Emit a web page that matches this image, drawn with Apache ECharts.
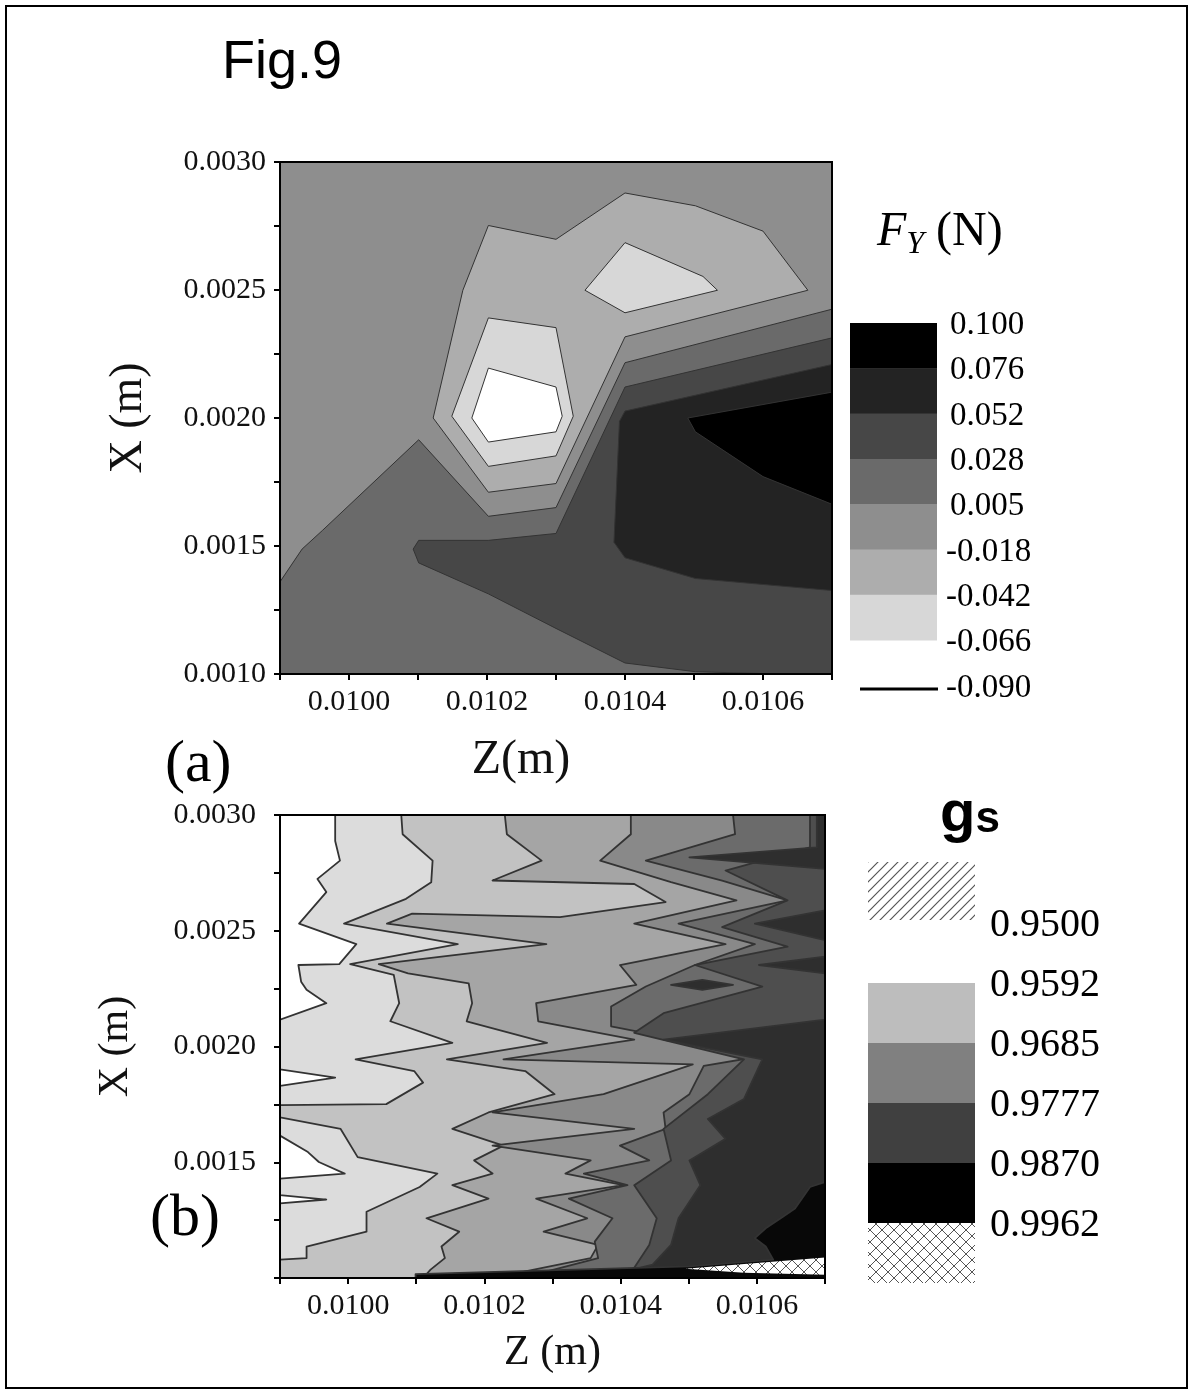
<!DOCTYPE html>
<html>
<head>
<meta charset="utf-8">
<title>Fig.9</title>
<script src="https://cdn.jsdelivr.net/npm/echarts@6.0.0/dist/echarts.min.js"></script>
<style>
html, body { margin: 0; padding: 0; background: #fff; }
#chart { width: 1193px; height: 1393px; }
</style>
</head>
<body>
<div id="chart"></div>
<script>
// ---------- shared axis data ----------
var zRange = [0.0099, 0.0107];
var xRange = [0.0010, 0.0030];
var zTickLabels = ['0.0100', '0.0102', '0.0104', '0.0106'];
var xTickLabelsA = ['0.0010', '0.0015', '0.0020', '0.0025', '0.0030'];
var xTickLabelsB = ['0.0015', '0.0020', '0.0025', '0.0030'];

// ---------- panel (a): F_Y (N) ----------
var fyLabels = ['0.100', '0.076', '0.052', '0.028', '0.005', '-0.018', '-0.042', '-0.066', '-0.090'];
var fyColors = ['#000000', '#232323', '#474747', '#6a6a6a', '#8e8e8e', '#adadad', '#d7d7d7', '#ffffff'];

// filled regions, [Z, X] vertices in m; level = index into fyColors
var fyRegions = [
  { level: 4, pts: [[0.0099, 0.0010], [0.0107, 0.0010], [0.0107, 0.0030], [0.0099, 0.0030]] },
  { level: 3, pts: [[0.0099, 0.001360], [0.009932, 0.001488], [0.009962, 0.001562], [0.010101, 0.001915], [0.010202, 0.001616], [0.010300, 0.001650], [0.010400, 0.002216], [0.010700, 0.002425], [0.0107, 0.0010], [0.0099, 0.0010]] },
  { level: 2, pts: [[0.010101, 0.001522], [0.010202, 0.001522], [0.010300, 0.001549], [0.010400, 0.002121], [0.010700, 0.002313], [0.0107, 0.0010], [0.010620, 0.0010], [0.010502, 0.001009], [0.010400, 0.001043], [0.010300, 0.001178], [0.010202, 0.001313], [0.010101, 0.001434], [0.010093, 0.001488]] },
  { level: 1, pts: [[0.010400, 0.002027], [0.010700, 0.002209], [0.010700, 0.001326], [0.010502, 0.001373], [0.010400, 0.001454], [0.010384, 0.001515], [0.010392, 0.001987]] },
  { level: 0, pts: [[0.010491, 0.002000], [0.010700, 0.002101], [0.010700, 0.001663], [0.010600, 0.001771], [0.010502, 0.001946]] },
  { level: 5, pts: [[0.010202, 0.002752], [0.010300, 0.002698], [0.010400, 0.002879], [0.010502, 0.002829], [0.010600, 0.002730], [0.010665, 0.002499], [0.010400, 0.002317], [0.010300, 0.001744], [0.010202, 0.001710], [0.010122, 0.002000], [0.010165, 0.002499]] },
  { level: 6, pts: [[0.010202, 0.002391], [0.010300, 0.002353], [0.010325, 0.002007], [0.010300, 0.001852], [0.010202, 0.001811], [0.010149, 0.002007]] },
  { level: 6, pts: [[0.010400, 0.002685], [0.010513, 0.002553], [0.010534, 0.002499], [0.010400, 0.002411], [0.010342, 0.002499]] },
  { level: 7, pts: [[0.010202, 0.002195], [0.010300, 0.002121], [0.010309, 0.002007], [0.010300, 0.001946], [0.010202, 0.001906], [0.010178, 0.002000]] }
];

// ---------- panel (b): g_s ----------
var gsLabels = ['0.9500', '0.9592', '0.9685', '0.9777', '0.9870', '0.9962'];
var gsLegendColors = ['#bdbdbd', '#808080', '#404040', '#000000'];
var gsColors = ['#ffffff', '#dcdcdc', '#c2c2c2', '#a5a5a5', '#898989', '#6b6b6b', '#4e4e4e', '#2e2e2e', '#080808'];

// contour boundaries from top edge to bottom edge; the band right of each one takes its level
var gsB1 = [[0.009981, 0.003000], [0.009981, 0.002888], [0.009988, 0.002803], [0.009955, 0.002724], [0.009968, 0.002667], [0.009928, 0.002531], [0.010012, 0.002442], [0.009987, 0.002356], [0.009927, 0.002352], [0.009931, 0.002280], [0.009939, 0.002245], [0.009968, 0.002187], [0.009900, 0.002116], [0.009900, 0.001901], [0.009981, 0.001866], [0.009900, 0.001830], [0.009900, 0.001615], [0.009941, 0.001544], [0.009957, 0.001501], [0.009995, 0.001451], [0.009900, 0.001429], [0.009900, 0.001358], [0.009968, 0.001339], [0.009900, 0.001322], [0.009900, 0.001000]];
var gsB2 = [[0.010078, 0.003000], [0.010080, 0.002917], [0.010124, 0.002803], [0.010122, 0.002710], [0.010085, 0.002638], [0.009994, 0.002531], [0.010161, 0.002442], [0.010003, 0.002356], [0.010067, 0.002309], [0.010075, 0.002187], [0.010062, 0.002109], [0.010153, 0.002016], [0.010011, 0.001944], [0.010097, 0.001894], [0.010110, 0.001844], [0.010056, 0.001751], [0.009900, 0.001747], [0.009900, 0.001694], [0.009989, 0.001644], [0.010014, 0.001522], [0.010131, 0.001451], [0.010105, 0.001393], [0.010027, 0.001286], [0.010027, 0.001200], [0.009939, 0.001136], [0.009939, 0.001086], [0.009900, 0.001079], [0.009900, 0.001000]];
var gsB3 = [[0.010230, 0.003000], [0.010233, 0.002917], [0.010284, 0.002803], [0.010212, 0.002717], [0.010420, 0.002702], [0.010466, 0.002624], [0.010311, 0.002559], [0.010094, 0.002574], [0.010057, 0.002531], [0.010291, 0.002442], [0.010045, 0.002356], [0.010088, 0.002316], [0.010177, 0.002273], [0.010182, 0.002187], [0.010174, 0.002109], [0.010292, 0.002016], [0.010145, 0.001944], [0.010260, 0.001894], [0.010303, 0.001794], [0.010206, 0.001715], [0.010153, 0.001644], [0.010228, 0.001572], [0.010185, 0.001508], [0.010212, 0.001451], [0.010153, 0.001401], [0.010206, 0.001343], [0.010115, 0.001258], [0.010163, 0.001200], [0.010137, 0.001136], [0.010142, 0.001086], [0.010121, 0.001036], [0.010110, 0.001000]];
var gsB4 = [[0.010415, 0.003000], [0.010415, 0.002917], [0.010370, 0.002803], [0.010474, 0.002710], [0.010570, 0.002631], [0.010420, 0.002531], [0.010554, 0.002442], [0.010399, 0.002352], [0.010423, 0.002266], [0.010276, 0.002187], [0.010279, 0.002109], [0.010420, 0.002030], [0.010228, 0.001944], [0.010506, 0.001923], [0.010375, 0.001794], [0.010212, 0.001715], [0.010420, 0.001644], [0.010212, 0.001572], [0.010356, 0.001508], [0.010319, 0.001451], [0.010404, 0.001401], [0.010276, 0.001343], [0.010351, 0.001258], [0.010287, 0.001200], [0.010367, 0.001143], [0.010356, 0.001086], [0.010260, 0.001029], [0.010228, 0.001000]];
var gsB5 = [[0.010565, 0.003000], [0.010568, 0.002917], [0.010437, 0.002803], [0.010549, 0.002717], [0.010645, 0.002631], [0.010485, 0.002531], [0.010597, 0.002442], [0.010509, 0.002352], [0.010437, 0.002259], [0.010386, 0.002173], [0.010386, 0.002087], [0.010608, 0.001959], [0.010522, 0.001916], [0.010501, 0.001794], [0.010463, 0.001715], [0.010466, 0.001644], [0.010399, 0.001572], [0.010442, 0.001508], [0.010346, 0.001451], [0.010410, 0.001401], [0.010324, 0.001343], [0.010388, 0.001258], [0.010362, 0.001157], [0.010367, 0.001086], [0.010292, 0.001029], [0.010281, 0.001000]];
var gsB6 = [[0.010678, 0.003000], [0.010678, 0.002860], [0.010554, 0.002760], [0.010645, 0.002631], [0.010549, 0.002516], [0.010645, 0.002431], [0.010509, 0.002352], [0.010608, 0.002259], [0.010463, 0.002144], [0.010420, 0.002059], [0.010581, 0.001944], [0.010528, 0.001794], [0.010463, 0.001644], [0.010474, 0.001508], [0.010420, 0.001401], [0.010453, 0.001258], [0.010442, 0.001143], [0.010420, 0.001044], [0.010399, 0.001000]];
var gsB7 = [[0.010688, 0.003000], [0.010688, 0.002860], [0.010501, 0.002817], [0.010700, 0.002767], [0.010700, 0.002588], [0.010597, 0.002531], [0.010700, 0.002459], [0.010700, 0.002388], [0.010603, 0.002352], [0.010700, 0.002316], [0.010700, 0.002116], [0.010463, 0.002030], [0.010608, 0.001944], [0.010581, 0.001773], [0.010528, 0.001687], [0.010554, 0.001601], [0.010501, 0.001508], [0.010517, 0.001401], [0.010485, 0.001258], [0.010474, 0.001143], [0.010447, 0.001058], [0.010367, 0.001000]];
var gsB8 = [[0.010700, 0.001415], [0.010678, 0.001393], [0.010656, 0.001300], [0.010635, 0.001258], [0.010613, 0.001215], [0.010597, 0.001172], [0.010613, 0.001136], [0.010624, 0.001079], [0.010501, 0.001050], [0.010099, 0.001017], [0.010099, 0.001000]];
var gsBoundaries = [gsB1, gsB2, gsB3, gsB4, gsB5, gsB6, gsB7, gsB8];
// closed islands drawn on top of the bands: [level, vertices]
var gsIslands = [
  [7, [[0.010474, 0.002266], [0.010520, 0.002288], [0.010565, 0.002266], [0.010520, 0.002245]]]
];
// region above 0.9962 (cross-hatched)
var gsHatchRegion = [[0.010495, 0.001040], [0.010700, 0.001089], [0.010700, 0.001014], [0.010581, 0.001023]];

// ---------- patterns ----------
function diagPattern() {
  var c = document.createElement('canvas');
  c.width = 10; c.height = 10;
  var g = c.getContext('2d');
  g.strokeStyle = '#555'; g.lineWidth = 1.2;
  g.beginPath();
  g.moveTo(0, 10); g.lineTo(10, 0);
  g.moveTo(-1, 1); g.lineTo(1, -1);
  g.moveTo(9, 11); g.lineTo(11, 9);
  g.stroke();
  return c;
}
function crossPattern() {
  var c = document.createElement('canvas');
  c.width = 12; c.height = 12;
  var g = c.getContext('2d');
  g.fillStyle = '#fff'; g.fillRect(0, 0, 12, 12);
  g.strokeStyle = '#555'; g.lineWidth = 1;
  g.beginPath();
  g.moveTo(0, 12); g.lineTo(12, 0);
  g.moveTo(0, 0); g.lineTo(12, 12);
  g.stroke();
  return c;
}
var diagFill = { image: diagPattern(), repeat: 'repeat' };
var crossFill = { image: crossPattern(), repeat: 'repeat' };

// ---------- build regions for panel (b) ----------
var gsRegions = [{ fill: gsColors[0], pts: [[zRange[0], xRange[0]], [zRange[1], xRange[0]], [zRange[1], xRange[1]], [zRange[0], xRange[1]]], line: false }];
gsBoundaries.forEach(function (b, i) {
  gsRegions.push({ fill: gsColors[i + 1], pts: b.concat([[zRange[1], xRange[0]], [zRange[1], xRange[1]]]), line: true });
});
gsIslands.forEach(function (isl) {
  gsRegions.push({ fill: gsColors[isl[0]], pts: isl[1], line: true });
});
gsRegions.push({ fill: crossFill, pts: gsHatchRegion, line: false });

var fyPolys = fyRegions.map(function (r, i) {
  return { fill: fyColors[r.level], pts: r.pts, line: i > 0 };
});

function regionSeries(idx, polys, stroke, lw) {
  return {
    type: 'custom',
    xAxisIndex: idx,
    yAxisIndex: idx,
    silent: true,
    clip: true,
    data: polys.map(function (p, i) { return [p.pts[0][0], p.pts[0][1], i]; }),
    renderItem: function (params, api) {
      var p = polys[params.dataIndex];
      var pts = p.pts.map(function (q) { return api.coord(q); });
      return {
        type: 'polygon',
        shape: { points: pts },
        style: { fill: p.fill, stroke: p.line ? stroke : null, lineWidth: lw, lineJoin: 'round' }
      };
    }
  };
}

var serif = 'Liberation Serif';
var txt = '#111';

function makeXAxis(gridIndex, name, gap, namePad, nameSize) {
  return {
    type: 'value', gridIndex: gridIndex, min: zRange[0], max: zRange[1], interval: 0.0001,
    name: name, nameLocation: 'middle', nameGap: gap,
    nameTextStyle: { fontFamily: serif, fontSize: nameSize, color: txt, padding: namePad },
    axisLine: { show: true, lineStyle: { color: '#000', width: 2 } },
    axisTick: { show: true, length: 6, lineStyle: { color: '#000', width: 2 } },
    axisLabel: {
      fontFamily: serif, fontSize: 30, color: txt, margin: 13,
      formatter: function (v) { var s = v.toFixed(4); return zTickLabels.indexOf(s) >= 0 ? s : ''; }
    },
    splitLine: { show: false }
  };
}
function makeYAxis(gridIndex, labels, gap, margin, nameSize) {
  return {
    type: 'value', gridIndex: gridIndex, min: xRange[0], max: xRange[1], interval: 0.00025,
    name: 'X (m)', nameLocation: 'middle', nameGap: gap, nameRotate: 90,
    nameTextStyle: { fontFamily: serif, fontSize: nameSize, color: txt },
    axisLine: { show: true, lineStyle: { color: '#000', width: 2 } },
    axisTick: { show: true, length: 6, lineStyle: { color: '#000', width: 2 } },
    axisLabel: {
      fontFamily: serif, fontSize: 30, color: txt, margin: margin,
      formatter: function (v) { var s = v.toFixed(4); return labels.indexOf(s) >= 0 ? s : ''; }
    },
    splitLine: { show: false }
  };
}

// ---------- legends and labels ----------
var graphics = [];
graphics.push({ type: 'rect', shape: { x: 6, y: 6, width: 1181, height: 1382 }, style: { fill: null, stroke: '#000', lineWidth: 2 }, z: 100 });
graphics.push({ type: 'text', left: 222, top: 36, style: { text: 'Fig.9', font: '54px "Liberation Sans"', fill: '#000' } });
graphics.push({ type: 'text', left: 165, top: 735, style: { text: '(a)', font: '60px "Liberation Serif"', fill: '#000' } });
graphics.push({ type: 'text', left: 150, top: 1189, style: { text: '(b)', font: '60px "Liberation Serif"', fill: '#000' } });

// F_Y legend
graphics.push({
  type: 'text', left: 877, top: 208,
  style: {
    text: '{f|F}{s|Y}{n| (N)}',
    rich: {
      f: { fontFamily: serif, fontStyle: 'italic', fontSize: 48, fill: '#000' },
      s: { fontFamily: serif, fontStyle: 'italic', fontSize: 32, fill: '#000', padding: [26, 0, 0, 0] },
      n: { fontFamily: serif, fontSize: 48, fill: '#000' }
    }
  }
});
var fyBoxTop = 323, fyBoxH = 45.3;
for (var i = 0; i < fyColors.length - 1; i++) {
  graphics.push({ type: 'rect', shape: { x: 850, y: fyBoxTop + i * fyBoxH, width: 87, height: fyBoxH + 0.5 }, style: { fill: fyColors[i] } });
}
fyLabels.forEach(function (l, i) {
  graphics.push({ type: 'text', left: l.charAt(0) === '-' ? 946 : 950, top: fyBoxTop + 4 + i * fyBoxH - 18, style: { text: l, font: '33px "Liberation Serif"', fill: '#000' } });
});
graphics.push({ type: 'line', shape: { x1: 860, y1: 689, x2: 938, y2: 689 }, style: { stroke: '#000', lineWidth: 3 } });

// g_s legend
graphics.push({
  type: 'text', left: 940, top: 786,
  style: {
    text: '{g|g}{s|s}',
    rich: {
      g: { fontFamily: 'Liberation Sans', fontWeight: 'bold', fontSize: 58, fill: '#000' },
      s: { fontFamily: 'Liberation Sans', fontWeight: 'bold', fontSize: 44, fill: '#000', padding: [10, 0, 0, 0] }
    }
  }
});
graphics.push({ type: 'rect', shape: { x: 868, y: 862, width: 107, height: 58 }, style: { fill: diagFill } });
var gsBoxTop = 983, gsBoxH = 60;
gsLegendColors.forEach(function (c, i) {
  graphics.push({ type: 'rect', shape: { x: 868, y: gsBoxTop + i * gsBoxH, width: 107, height: gsBoxH + 0.5 }, style: { fill: c } });
});
graphics.push({ type: 'rect', shape: { x: 868, y: gsBoxTop + 4 * gsBoxH, width: 107, height: 60 }, style: { fill: crossFill } });
gsLabels.forEach(function (l, i) {
  graphics.push({ type: 'text', left: 990, top: 905 + i * gsBoxH, style: { text: l, font: '40px "Liberation Serif"', fill: '#000' } });
});

var chart = echarts.init(document.getElementById('chart'), null, { renderer: 'canvas' });
chart.setOption({
  animation: false,
  backgroundColor: '#fff',
  grid: [
    { left: 280, top: 162, width: 552, height: 512, show: true, borderColor: '#000', borderWidth: 2, backgroundColor: 'rgba(0,0,0,0)', z: 10 },
    { left: 280, top: 815, width: 545, height: 463, show: true, borderColor: '#000', borderWidth: 2, backgroundColor: 'rgba(0,0,0,0)', z: 10 }
  ],
  xAxis: [makeXAxis(0, 'Z(m)', 62, [0, 70, 0, 0], 48), makeXAxis(1, 'Z (m)', 54, 0, 42)],
  yAxis: [makeYAxis(0, xTickLabelsA, 128, 14, 46), makeYAxis(1, xTickLabelsB, 143, 24, 42)],
  series: [regionSeries(0, fyPolys, '#333', 1), regionSeries(1, gsRegions, '#333', 1.8)],
  graphic: graphics
});
</script>
</body>
</html>
